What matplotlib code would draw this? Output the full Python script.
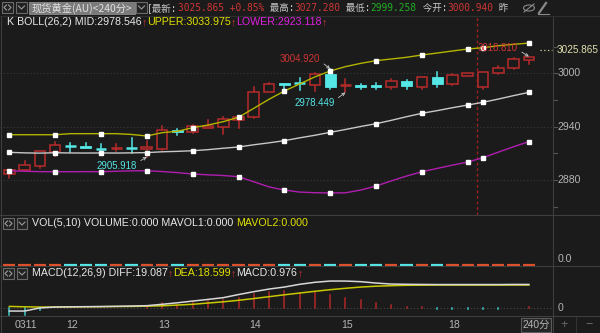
import matplotlib
matplotlib.use('Agg')
import matplotlib.pyplot as plt
from matplotlib.patches import Rectangle, Ellipse
from matplotlib.lines import Line2D
from matplotlib.transforms import blended_transform_factory
import numpy as np

W, H = 600, 333
BG = '#1b1b1b'
RED = '#b82a2a'
CYAN = '#55e6e6'
GRID = '#3a3a3a'
SEP = '#3e3e3e'
AXT = '#b4b4b4'
LAT = ['Liberation Sans', 'Noto Sans CJK SC']
MONO = ['DejaVu Sans Mono', 'Noto Sans CJK SC']

# ---------------- data ----------------
opens = [2886.7, 2890.9, 2895.7, 2911.1, 2918.8, 2918.2, 2915.0, 2915.5, 2916.5, 2914.8,
         2915.2, 2935.9, 2933.6, 2938.1, 2940.0, 2947.1, 2950.5, 2979.0, 2989.0, 2988.9,
         2986.8, 2999.2, 2986.7, 2987.2, 2987.2, 2984.3, 2991.0, 2984.6, 2995.8, 2987.6,
         2997.3, 2984.6, 3000.7, 3005.6, 3015.3]
closes = [2890.9, 2896.8, 2912.6, 2919.3, 2918.4, 2916.0, 2914.7, 2915.8, 2916.1, 2917.4,
          2936.2, 2933.6, 2940.4, 2941.1, 2948.3, 2951.2, 2979.3, 2988.3, 2986.8, 2988.5,
          2998.9, 2985.0, 2987.0, 2984.6, 2984.3, 2991.0, 2985.7, 2995.8, 2987.6, 2998.1,
          3000.0, 3001.1, 3006.3, 3016.1, 3018.0]
highs = [2891.5, 2901.7, 2913.0, 2923.0, 2921.3, 2922.0, 2920.0, 2920.0, 2926.9, 2924.2,
         2940.7, 2937.3, 2941.8, 2947.5, 2951.2, 2952.0, 2985.0, 2988.6, 2989.3, 2994.4,
         3000.0, 3004.92, 2993.2, 2988.5, 2988.9, 2993.9, 2992.3, 2996.3, 3001.1, 2999.6,
         3000.6, 3001.5, 3008.6, 3016.8, 3018.81]
lows = [2881.9, 2890.5, 2893.1, 2907.3, 2911.8, 2915.8, 2910.0, 2912.6, 2910.0, 2905.918,
        2913.7, 2930.6, 2933.0, 2938.0, 2932.0, 2938.8, 2950.0, 2979.0, 2980.0, 2981.2,
        2980.4, 2982.7, 2978.449, 2982.7, 2982.0, 2982.7, 2982.3, 2982.0, 2984.3, 2986.8,
        2997.0, 2982.0, 2998.9, 3005.0, 3010.0]

upper = [2930.9, 2930.9, 2930.9, 2930.9, 2932.1, 2932.1, 2932.1, 2932.1, 2931.2, 2929.5,
         2933.2, 2934.8, 2938.8, 2941.8, 2945.6, 2950.5, 2960.6, 2970.8, 2980.1, 2988.0,
         2996.0, 3002.6, 3007.5, 3011.2, 3014.2, 3016.1, 3018.0, 3020.6, 3022.8, 3025.1,
         3027.3, 3028.8, 3031.0, 3032.6, 3033.975]
mid = [2911.1, 2910.5, 2910.2, 2910.6, 2910.4, 2910.3, 2910.4, 2910.3, 2910.5, 2910.8,
       2911.7, 2912.2, 2912.9, 2914.1, 2915.7, 2917.1, 2919.6, 2921.8, 2924.2, 2927.4,
       2930.3, 2933.6, 2936.8, 2940.2, 2943.3, 2947.1, 2951.2, 2955.0, 2958.0, 2961.3,
       2964.3, 2967.4, 2971.0, 2974.9, 2978.546]
lower = [2890.4, 2889.8, 2889.4, 2889.3, 2889.3, 2889.4, 2889.3, 2889.8, 2890.3, 2890.4,
         2889.5, 2888.3, 2886.7, 2885.8, 2885.0, 2883.7, 2878.0, 2872.2, 2868.7, 2866.4,
         2865.7, 2865.4, 2865.6, 2868.7, 2873.2, 2879.0, 2884.4, 2889.3, 2893.0, 2896.7,
         2900.2, 2905.1, 2911.3, 2917.4, 2923.118]
marker_idx = [0, 3, 6, 9, 12, 15, 18, 21, 24, 27, 30, 31, 34]

volume = [0.0] * 35

diff = [-2.2, -2.2, 0.3, 1.0, 1.2, 1.3, 1.4, 1.6, 1.8, 2.1, 3.2, 4.4, 5.8, 7.1, 8.5, 11.0,
        13.3, 15.4, 17.0, 19.2, 20.8, 21.8, 21.8, 21.3, 20.2, 19.4, 19.2, 19.1, 19.0, 19.0,
        19.0, 19.0, 19.0, 19.1, 19.087]
dea = [1.5, 1.2, 1.0, 1.0, 1.1, 1.2, 1.3, 1.4, 1.5, 1.7, 2.0, 2.6, 3.2, 4.2, 5.2, 6.4,
       7.8, 9.3, 10.8, 12.2, 13.6, 14.9, 16.0, 17.0, 17.7, 18.1, 18.4, 18.5, 18.6, 18.6,
       18.6, 18.6, 18.6, 18.6, 18.599]
macd = [-5.4, -5.0, -1.0, 0.2, 0.4, 0.4, 0.5, 0.6, 0.6, 2.0, 4.0, 3.0, 4.8, 5.8, 6.9, 8.0,
        11.2, 13.3, 13.9, 12.2, 13.3, 10.6, 8.5, 6.4, 4.0, 2.6, 1.3, 1.0, -0.4, -0.4,
        -0.4, -0.4, -0.4, 0.5, 0.976]

day_labels = ['0311', '12', '13', '14', '15', '18']
day_pos = [1.1, 4.1, 10.1, 16.1, 22.1, 29.1]

last_price = 3025.865
yticks_main = [3000, 2940, 2880]
minor_main = [3030, 3000, 2970, 2940, 2910, 2880, 2850]
marker_line = 30.6

# ---------------- figure ----------------
fig = plt.figure(figsize=(W / 100, H / 100), dpi=100, facecolor=BG)


def ax_px(x0, y0, x1, y1):
    a = fig.add_axes([x0 / W, 1 - y1 / H, (x1 - x0) / W, (y1 - y0) / H])
    a.set_facecolor(BG)
    for s in a.spines.values():
        s.set_visible(False)
    a.set_xticks([])
    a.set_yticks([])
    return a


def fx(x):
    return x / W


def fy(y):
    return 1 - y / H


def hline(y, x0=0, x1=W, c=SEP, lw=0.8, ls='-'):
    fig.add_artist(Line2D([fx(x0), fx(x1)], [fy(y), fy(y)], color=c, lw=lw, ls=ls))


def vline(x, y0, y1, c=SEP, lw=0.8):
    fig.add_artist(Line2D([fx(x), fx(x)], [fy(y0), fy(y1)], color=c, lw=lw))


n = len(opens)
xi = np.arange(n)
XL = (-0.609, 35.58)

# main panel
P0, K = 3000.0, 0.889
ax = ax_px(0, 16, 553, 215)
ax.set_xlim(*XL)
ax.set_ylim(P0 - (215 - 73.3) / K, P0 + (73.3 - 16) / K)
for v in yticks_main:
    ax.axhline(v, color=GRID, lw=0.8, ls=(0, (1, 2)))
ax.axvline(marker_line, color='#a02020', lw=1.0, ls=(0, (2, 2)))

bw = 0.7
for i in range(n):
    o, c, h, l = opens[i], closes[i], highs[i], lows[i]
    up = c >= o
    col = RED if up else CYAN
    top, bot = max(o, c), min(o, c)
    if top - bot < 0.9:
        ax.plot([i, i], [l, h], color=col, lw=1.1, zorder=3)
        ax.plot([i - bw / 2, i + bw / 2], [(o + c) / 2] * 2, color=col, lw=1.8, zorder=3,
                solid_capstyle='butt')
        continue
    ax.plot([i, i], [top, h], color=col, lw=1.1, zorder=3)
    ax.plot([i, i], [l, bot], color=col, lw=1.1, zorder=3)
    if up:
        ax.add_patch(Rectangle((i - bw / 2, bot), bw, top - bot, facecolor=BG,
                               edgecolor=col, lw=1.1, zorder=4))
    else:
        ax.add_patch(Rectangle((i - bw / 2, bot), bw, top - bot, facecolor=col,
                               edgecolor=col, lw=0.6, zorder=4))

ax.plot(xi, upper, color='#b3b300', lw=1.0, zorder=5)
ax.plot(xi, mid, color='#c8c8c8', lw=1.0, zorder=5)
ax.plot(xi, lower, color='#b01eb0', lw=1.0, zorder=5)
for ser in (upper, mid, lower):
    ax.plot(marker_idx, [ser[k] for k in marker_idx], ls='none', marker='s', ms=2.8,
            mfc='white', mec='white', zorder=6)

def ann(txt, i, val, dx, dy, col, rel):
    ax.annotate(txt, xy=(i, val), xytext=(dx, dy), textcoords='offset pixels',
                ha='right', va='center', color=col, fontsize=6.9, family=LAT, zorder=10,
                arrowprops=dict(arrowstyle='->', color='#c8c8c8', lw=0.6,
                                shrinkA=1, shrinkB=0, relpos=rel, mutation_scale=5))

ann('3004.920', 21, highs[21], -10, 10, '#d03535', (1.0, 0.3))
ann('2978.449', 22, lows[22], -11, -11, CYAN, (1.0, 0.8))
ann('2905.918', 9, lows[9], -10, -9, CYAN, (1.0, 0.8))
ann('3018.810', 34, highs[34], -11, 9, '#d03535', (1.0, 0.3))

tr = blended_transform_factory(ax.transAxes, ax.transData)
for v in yticks_main:
    ax.text(1 + 5 / 553, v, f'{v}', transform=tr, ha='left', va='center', color=AXT,
            fontsize=7.6, family=LAT, clip_on=False)
for v in minor_main:
    ax.plot([1.0, 1 + 4 / 553], [v, v], transform=tr, color='#555555', lw=0.8, clip_on=False)
ax.plot([1 - 13 / 553, 1 - 1 / 553], [last_price] * 2, transform=tr, color='#d8d8a0',
        lw=0.9, ls=(0, (1, 2)), clip_on=False)
ax.text(1 + 4 / 553, last_price, f'{last_price:.3f}', transform=tr, ha='left', va='center',
        color='#e0e0b0', fontsize=7.2, family=LAT, clip_on=False)

# volume panel
axv = ax_px(0, 215, 553, 266)
axv.set_xlim(*XL)
axv.set_ylim(-0.03, 1)
for i in range(n):
    col = '#e0502a' if closes[i] >= opens[i] else CYAN
    axv.plot([i - 0.4, i + 0.4], [volume[i]] * 2, color=col, lw=1.6, solid_capstyle='butt')
fig.text(fx(558), fy(259), '0.0', color=AXT, fontsize=7.6, family=LAT, va='center')

# macd panel
axm = ax_px(0, 266, 553, 316)
axm.set_xlim(*XL)
axm.set_ylim(-(316 - 308.3) / 1.25, (308.3 - 266) / 1.25)
axm.axhline(0, color='#4a4a4a', lw=0.8, ls=(0, (1, 2)))
for i in range(n):
    col = '#b02828' if macd[i] >= 0 else '#3cc8c8'
    axm.plot([i, i], [0, macd[i]], color=col, lw=1.1)
axm.plot(xi, dea, color='#c8c800', lw=1.1)
axm.plot(xi, diff, color='#d8d8d8', lw=1.1)
fig.text(fx(558), fy(308), '0', color=AXT, fontsize=7.6, family=LAT, va='center')

# separators
hline(215)
hline(266)
hline(316)
vline(553, 16, 333)
vline(1, 16, 333)
hline(15.5, 0, W, c='#2e2e2e')

# x labels
for lab, p in zip(day_labels, day_pos):
    xpx = 9.3 + p * 15.28
    fig.text(fx(xpx), fy(325), lab, color=AXT, fontsize=7.6, family=LAT, ha='center',
             va='center')
fig.add_artist(Rectangle((fx(521), fy(332)), (551 - 521) / W, 14 / H, transform=fig.transFigure,
                         facecolor='#252525', edgecolor='#5a5a5a', lw=0.8))
fig.text(fx(536), fy(325), '240分', color=AXT, fontsize=7.4, family=LAT, ha='center',
         va='center')
fig.text(fx(564), fy(325), '+', color='#6a6a6a', fontsize=9, family=LAT, ha='center',
         va='center')
fig.text(fx(589), fy(325), '−', color='#6a6a6a', fontsize=9, family=LAT, ha='center',
         va='center')
vline(576, 317, 333, c='#333333')

# icons
def icon_box(x0, y0, x1, y1, kind):
    fig.add_artist(Rectangle((fx(x0), fy(y1)), (x1 - x0) / W, (y1 - y0) / H,
                             transform=fig.transFigure, facecolor='#222222',
                             edgecolor='#6a6a6a', lw=0.8))
    cx, cy = (x0 + x1) / 2, (y0 + y1) / 2
    if kind == 'v':
        fig.add_artist(Line2D([fx(cx - 3), fx(cx), fx(cx + 3)], [fy(cy - 1.5), fy(cy + 1.5), fy(cy - 1.5)],
                              color='#9a9a9a', lw=0.8))
    else:
        fig.add_artist(Line2D([fx(cx - 1), fx(cx - 3.5), fx(cx - 1)], [fy(cy - 2.5), fy(cy), fy(cy + 2.5)],
                              color='#9a9a9a', lw=0.8))
        fig.add_artist(Line2D([fx(cx + 1), fx(cx + 3.5), fx(cx + 1)], [fy(cy - 2.5), fy(cy), fy(cy + 2.5)],
                              color='#9a9a9a', lw=0.8))

icon_box(2, 2, 13, 13, 'lr')
icon_box(16, 2, 27, 13, 'v')
icon_box(136, 2, 147, 13, 'v')
icon_box(3, 268, 14, 279, 'lr')
icon_box(17, 268, 27, 279, 'v')
icon_box(3, 218, 14, 229, 'lr')
icon_box(17, 218, 27, 229, 'v')

# title box
fig.add_artist(Rectangle((fx(29), fy(14)), (135 - 29) / W, 12 / H, transform=fig.transFigure,
                         facecolor='#7a7a7a', edgecolor='#8a8a8a', lw=0.6))
fig.text(fx(82), fy(8), '现货黄金(AU)<240分>', color='#e2e2e2', fontsize=7.4,
         family=['Noto Sans CJK SC', 'DejaVu Sans'], ha='center', va='center')

renderer = fig.canvas.get_renderer()


def seq(x0, y, pieces, size, family):
    x = x0
    for s, c in pieces:
        t = fig.text(fx(x), fy(y), s, color=c, fontsize=size, family=family, ha='left',
                     va='center')
        x += t.get_window_extent(renderer).width
    return x

GRAYT = '#c8c8c8'
R2 = '#d03535'
G2 = '#22b022'
seq(147, 8, [('[最新:', GRAYT), ('3025.865 +0.85%', R2), (' 最高:', GRAYT), ('3027.280', R2),
             (' 最低:', GRAYT), ('2999.258', G2), (' 今开:', GRAYT), ('3000.940', R2),
             (' 昨', GRAYT)], 6.85, MONO)

# eye & pencil
fig.add_artist(Ellipse((fx(529), fy(8)), 11 / W, 6 / H, transform=fig.transFigure,
                       facecolor='none', edgecolor='#8a8a8a', lw=0.8))
fig.add_artist(Line2D([fx(524), fx(534)], [fy(12), fy(4)], color='#8a8a8a', lw=0.8))
fig.add_artist(Line2D([fx(539), fx(546)], [fy(13), fy(3)], color='#8a8a8a', lw=1.6))
fig.add_artist(Line2D([fx(538), fx(549)], [fy(13.5), fy(13.5)], color='#8a8a8a', lw=0.8))

UP = '↑'
seq(7, 22, [('K BOLL(26,2) MID:2978.546', '#e8e8e8'), (UP, R2), ('UPPER:3033.975', '#e0e000'),
            (UP, R2), ('LOWER:2923.118', '#e020e0'), (UP, R2)], 7.65, LAT)
seq(32, 223, [('VOL(5,10) VOLUME:0.000 MAVOL1:0.000 ', '#e8e8e8'), ('MAVOL2:0.000', '#e0e000')],
    7.65, LAT)
seq(32, 273, [('MACD(12,26,9) DIFF:19.087', '#e8e8e8'), (UP, R2), ('DEA:18.599', '#e0e000'),
              (UP, R2), ('MACD:0.976', '#e8e8e8'), (UP, R2)], 7.7, LAT)

fig.savefig('out.png', dpi=100, facecolor=BG)
